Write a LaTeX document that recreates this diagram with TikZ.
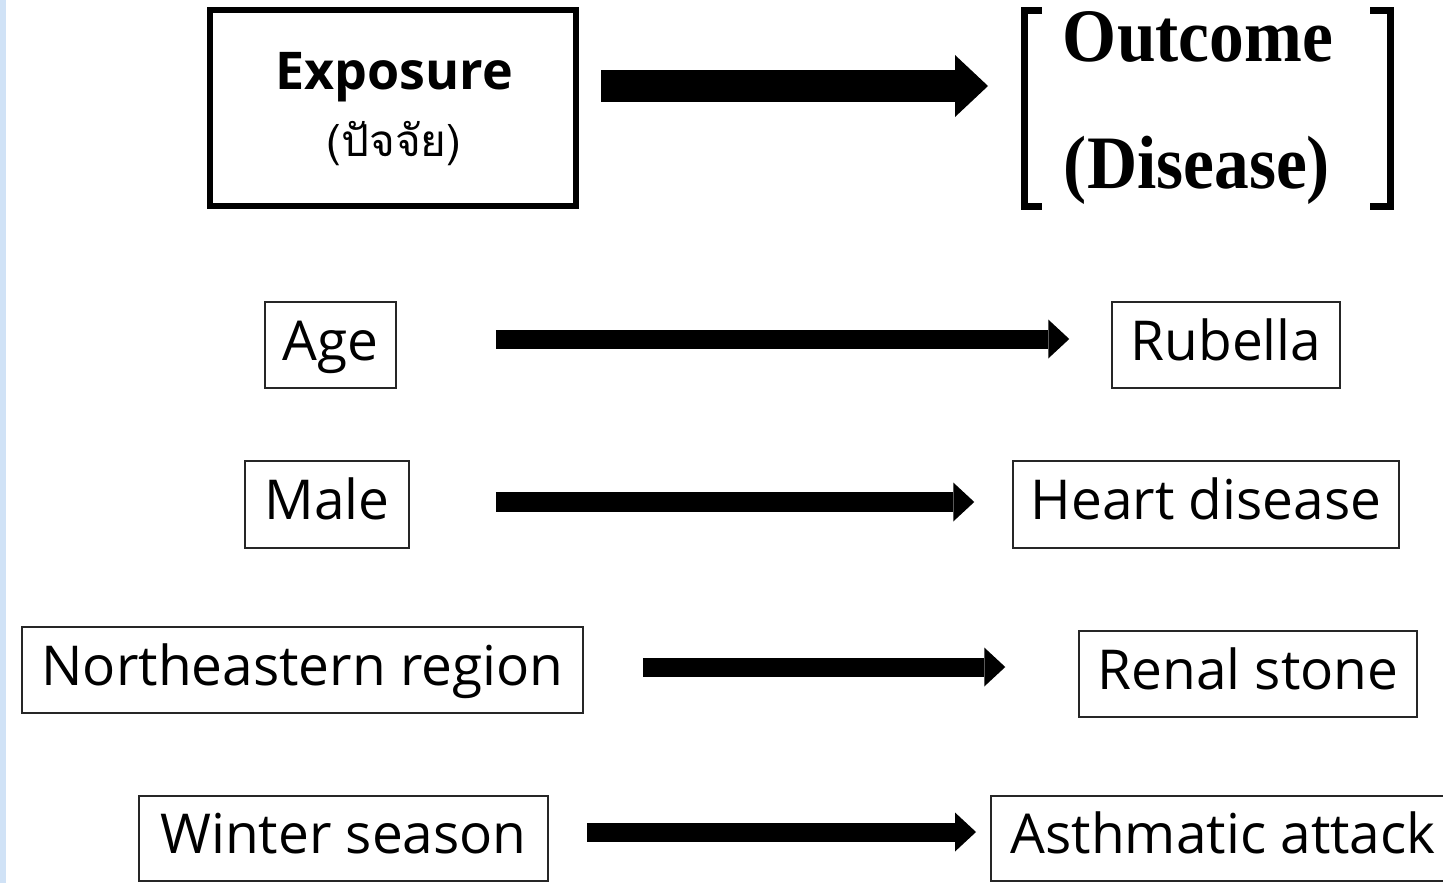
\documentclass[tikz,border=0pt]{standalone}
\usepackage{fontspec}
\setmainfont{Open Sans}
\newfontfamily\thaifont[Script=Thai]{Loma}
\newfontfamily\timesfont{Liberation Serif}
\usetikzlibrary{arrows.meta}
\definecolor{stripblue}{HTML}{D0E2F6}
\begin{document}
\begin{tikzpicture}[x=1pt,y=-1pt,
  box/.style={draw=black!85, line width=1.5pt, minimum height=86pt, inner sep=0pt,
    text height=42pt, text depth=12pt, font=\fontsize{55}{60}\selectfont},
  arr/.style={line width=19pt, -{Triangle[length=21pt,width=39pt,line width=0pt]}},
  bigarr/.style={line width=32pt, -{Triangle[length=33pt,width=62pt,line width=0pt]}},
  brk/.style={line width=7pt, line cap=butt, line join=miter},
  outtext/.style={anchor=base, inner sep=0pt, font=\timesfont\bfseries\fontsize{75.5}{80}\selectfont}
]
\useasboundingbox (0,0) rectangle (1443,883);
\fill[stripblue] (0,0) rectangle (6,883);

% header
\node[draw=black, line width=6pt, minimum width=366pt, minimum height=196pt, inner sep=0pt] (exposure) at (393,108) {};
\node[anchor=base, inner sep=0pt, font=\bfseries\fontsize{52}{56}\selectfont] (exptitle) at (394,89) {Exposure};
\node[anchor=base, inner sep=0pt, font=\thaifont\fontsize{44}{48}\selectfont] (expthai) at (394,156) {(ปัจจัย)};

\node[minimum width=366pt, minimum height=196pt, inner sep=0pt, outer sep=0pt] (outcome) at (1207,108.5) {};
\draw[brk] ([xshift=18pt]outcome.north west) -- (outcome.north west) -- (outcome.south west) -- ([xshift=18pt]outcome.south west);
\draw[brk] ([xshift=-20pt]outcome.north east) -- (outcome.north east) -- (outcome.south east) -- ([xshift=-20pt]outcome.south east);
\node[outtext] (outtitle) at (1198,62) {\scalebox{0.92}[1]{Outcome}};
\node[outtext] (outsub) at (1197,188) {\scalebox{0.92}[1]{(Disease)}};

\draw[bigarr, shorten <=22pt, shorten >=36pt] ([yshift=22pt]exposure.east) -- ([yshift=22pt]exposure.east -| outcome.west);

% rows
\node[box, minimum width=131pt] (age) at (330.5,345) {Age};
\node[box, minimum width=228pt] (rubella) at (1226,345) {Rubella};
\node[box, minimum width=164pt, minimum height=87pt] (male) at (327,504.5) {Male};
\node[box, minimum width=386pt, minimum height=87pt] (heart) at (1206,504.5) {Heart disease};
\node[box, minimum width=561pt] (ne) at (302.5,670) {Northeastern region};
\node[box, minimum width=338pt] (renal) at (1248,674) {Renal stone};
\node[box, minimum width=409pt, minimum height=85pt] (winter) at (343.5,838.5) {Winter season};
\node[box, minimum height=85pt, anchor=west, inner xsep=20pt] (asthma) at (990,838.5) {Asthmatic attack};

\draw[arr, shorten <=99pt, shorten >=42pt] ([yshift=6pt]age.east) -- ([yshift=6pt]age.east -| rubella.west);
\draw[arr, line width=20pt, shorten <=86pt, shorten >=38pt] ([yshift=2.5pt]male.east) -- ([yshift=2.5pt]male.east -| heart.west);
\draw[arr, shorten <=59pt, shorten >=73pt] ([yshift=3pt]ne.east) -- ([yshift=3pt]ne.east -| renal.west);
\draw[arr, shorten <=38pt, shorten >=14pt] ([yshift=6.5pt]winter.east) -- ([yshift=6.5pt]winter.east -| asthma.west);
\end{tikzpicture}
\end{document}
